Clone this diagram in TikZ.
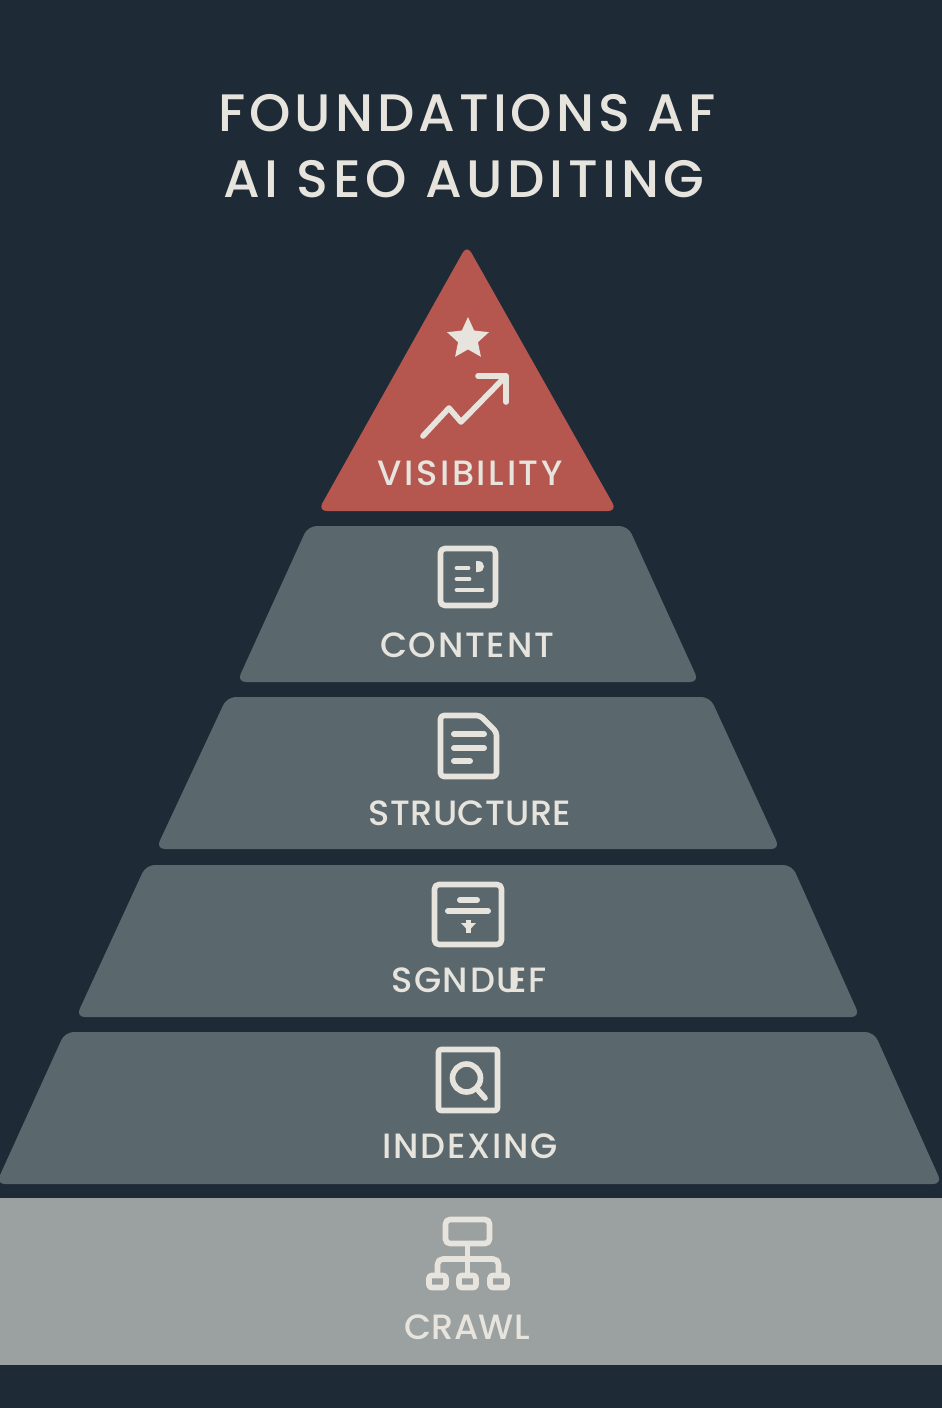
\documentclass[tikz,border=0pt]{standalone}
\usepackage{fontspec}
\setmainfont{Poppins Medium}[LetterSpace=5]
\newfontfamily\tightfont{Poppins Medium}[LetterSpace=1]
\newfontfamily\widefont{Poppins Medium}[LetterSpace=7.5]
\newfontfamily\titlefonta{Poppins Medium}[LetterSpace=7.6]
\newfontfamily\titlefontb{Poppins Medium}[LetterSpace=8.8]
\usetikzlibrary{shapes.geometric}
\definecolor{bgdark}{HTML}{1E2B37}
\definecolor{tiergrey}{HTML}{5A676D}
\definecolor{basegrey}{HTML}{9BA1A0}
\definecolor{topred}{HTML}{B5574F}
\definecolor{ivory}{HTML}{E6E4DD}
\tikzset{
	tier/.style={fill=tiergrey, rounded corners=5pt},
	icon/.style={draw=ivory, line width=3.2pt, line join=round, line cap=round},
	thinicon/.style={icon, line width=3.4pt},
	tierlabel/.style={text=ivory, font=\fontsize{20}{24}\selectfont, inner sep=0pt},
	titlelabel/.style={text=ivory, inner sep=0pt},
}
\begin{document}
\begin{tikzpicture}[x=0.02cm, y=-0.02cm]
		\useasboundingbox (0,0) rectangle (942,1408);
		% фон
		\fill [bgdark] (0,0) rectangle (942,1408);
		% заголовок
		\node [titlelabel, font=\titlefonta\fontsize{30}{36}\selectfont] (title1) at (467,113) {FOUNDATIONS AF};
		\node [titlelabel, font=\titlefontb\fontsize{30}{36}\selectfont] (title2) at (464,179) {AI SEO AUDITING};
		% ярусы
		\fill [topred, rounded corners=5pt] (467,245)--(617,511)--(318,511)--cycle;
		\fill [tier] (308,526)--(628,526)--(699,682)--(237,682)--cycle;
		\fill [tier] (227,697)--(710,697)--(780,849)--(156,849)--cycle;
		\fill [tier] (146,865)--(792,865)--(860,1017)--(76,1017)--cycle;
		\fill [tier] (65,1032)--(874,1032)--(942,1184)--(-4,1184)--cycle;
		\fill [basegrey] (0,1198) rectangle (942,1365);
		% подписи
		\node [tierlabel, font=\widefont\fontsize{20}{24}\selectfont] (visibility) at (470,473) {VISIBILITY};
		\node [tierlabel] (content) at (467,645) {CONTENT};
		\node [tierlabel, font=\tightfont\fontsize{20}{24}\selectfont] (structure) at (470,813) {STRUCTURE};
		\node [tierlabel] (sgnduef) at (469,980) {SGNDU\kern-7pt EF};
		\node [tierlabel] (indexing) at (470,1146) {INDEXING};
		\node [tierlabel, font=\tightfont\fontsize{20}{24}\selectfont] (crawl) at (467,1327) {CRAWL};
		% звезда и стрелка
		\node [star, star points=5, star point ratio=2.1, fill=ivory, minimum size=25pt, inner sep=0pt] (topstar) at (468,339) {};
		\draw [icon] (423,436)--(449,408)--(461,422)--(505,377);
		\draw [icon] (478,376)--(506,376)--(506,402);
		% content
		\draw [icon, rounded corners=2.5pt] (440.5,548.5) rectangle (495.5,605.5);
		\draw [thinicon, line width=2.8pt] (457,568)--(468,568);
		\draw [thinicon, line width=2.8pt] (457,579)--(469,579);
		\draw [thinicon, line width=2.8pt] (457,590)--(482,590);
		\fill [ivory] (476,561)--(478,561) .. controls (486,561) and (486,572) .. (478,572)--(476,572)--cycle;
		% structure
		\draw [icon, rounded corners=2pt] (480,715.5)--(440.5,715.5)--(440.5,776.5)--(496.5,776.5)--(496.5,732)--cycle;
		\draw [thinicon] (454,734)--(484,734);
		\draw [thinicon] (454,748)--(484,748);
		\draw [thinicon] (454,761)--(470,761);
		% sgnduef
		\draw [icon, rounded corners=2.5pt] (434.5,884.5) rectangle (501.5,944.5);
		\draw [thinicon] (460,900)--(477,900);
		\draw [thinicon] (448,911)--(488,911);
		\fill [ivory] (461,923)--(476,923)--(468.5,931)--cycle;
		\draw [thinicon, line cap=butt] (468.5,920)--(468.5,933);
		% indexing
		\draw [icon, rounded corners=1.5pt] (438.5,1049.5) rectangle (497.5,1110.5);
		\draw [icon] (466.5,1078) circle [radius=14];
		\draw [icon] (477,1089)--(485,1098);
		% crawl
		\draw [icon, rounded corners=2.5pt] (445.5,1219.5) rectangle (489.5,1243.5);
		\draw [icon] (467.5,1244)--(467.5,1274);
		\draw [icon, rounded corners=3pt] (437.5,1274)--(437.5,1259)--(498.5,1259)--(498.5,1274);
		\foreach \boxx in {437.5,467.5,498.5}
			\draw [icon, rounded corners=1.5pt] (\boxx-8.5,1275.5) rectangle (\boxx+8.5,1287.5);
		\end{tikzpicture}
\end{document}
